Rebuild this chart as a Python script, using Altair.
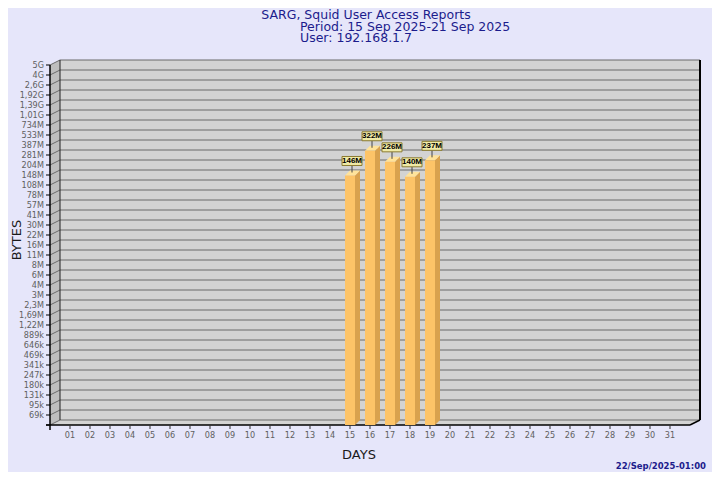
import altair as alt
import pandas as pd

# ---------------- data ----------------
DAYS = [15, 16, 17, 18, 19]
BYTES = [146e6, 322e6, 226e6, 140e6, 237e6]
BAR_LABELS = ["146M", "322M", "226M", "140M", "237M"]

Y_TICK_LABELS = ["69k", "95k", "131k", "180k", "247k", "341k", "469k", "646k", "889k",
                 "1,22M", "1,69M", "2,3M", "3M", "4M", "6M", "8M", "11M", "16M", "22M",
                 "30M", "41M", "57M", "78M", "108M", "148M", "204M", "281M", "387M",
                 "533M", "734M", "1,01G", "1,39G", "1,92G", "2,6G", "4G", "5G"]
X_TICK_LABELS = ["01", "02", "03", "04", "05", "06", "07", "08", "09", "10", "11", "12",
                 "13", "14", "15", "16", "17", "18", "19", "20", "21", "22", "23", "24",
                 "25", "26", "27", "28", "29", "30", "31"]
X_TICK_DAYS = list(range(1, 32))

TITLE_LINES = ["SARG, Squid User Access Reports", "Period: 15 Sep 2025-21 Sep 2025", "User: 192.168.1.7"]
Y_TITLE = "BYTES"
X_TITLE = "DAYS"
STAMP = "22/Sep/2025-01:00"

# ---------------- layout / style ----------------
Y_MIN, Y_MAX = 5e4, 5e9
X_MIN, X_MAX = 0, 32
W, H = 640, 360
PX_PER_DECADE = H / 5.0
K5 = 10 ** (5 / PX_PER_DECADE)      # 5px upward shift in data ratio
DX_WALL = 0.5                        # 10px in x data units
DX_BAR = 0.25                        # 5px in x data units

BG = "#e6e6fa"
WALL = "#d3d3d3"
SIDE = "#bebebe"
GRID = "#6a6a6a"
FRONT = "#fdc468"
BSIDE = "#d9a24e"
BTOP = "#ffe39a"
NAVY = "#1c1c8c"
AXFONT = "DejaVu Sans Condensed, Liberation Sans, sans-serif"

XS = alt.Scale(domain=[X_MIN, X_MAX], nice=False, zero=False)
YS = alt.Scale(type="log", domain=[Y_MIN, Y_MAX], nice=False)


def X(f):
    return alt.X(f, type="quantitative", scale=XS, axis=None)


def Y(f):
    return alt.Y(f, type="quantitative", scale=YS, axis=None)


# structure tables
frame = pd.DataFrame({"x0": [X_MIN], "x1": [X_MAX], "y0": [Y_MIN], "y1": [Y_MAX]})
side_df = pd.DataFrame({"x": [X_MIN, X_MIN + DX_WALL],
                        "lo": [Y_MIN, Y_MIN * K5], "hi": [Y_MAX, Y_MAX * K5]})
floor_df = pd.DataFrame({"y": [Y_MIN, Y_MIN * K5],
                         "xl": [X_MIN, X_MIN + DX_WALL], "xr": [X_MAX, X_MAX + DX_WALL]})

n = len(Y_TICK_LABELS)
tick_vals = [Y_MIN * (Y_MAX / Y_MIN) ** (i / n) for i in range(0, n + 1)]
ticks = pd.DataFrame({"v": tick_vals, "lab": [""] + Y_TICK_LABELS,
                      "x0": [X_MIN] * (n + 1), "x1": [X_MAX] * (n + 1)})
xt = pd.DataFrame({"d": X_TICK_DAYS, "lab": X_TICK_LABELS, "y0": [Y_MIN] * len(X_TICK_DAYS)})

bars = pd.DataFrame({"day": DAYS, "v": BYTES, "lab": BAR_LABELS})
bars["xl"] = bars["day"] - DX_BAR
bars["xr"] = bars["day"] + DX_BAR
bars["y0"] = Y_MIN

side_rows, top_rows = [], []
for d, v in zip(DAYS, BYTES):
    side_rows.append({"day": d, "x": d + DX_BAR, "lo": Y_MIN, "hi": v})
    side_rows.append({"day": d, "x": d + 2 * DX_BAR, "lo": Y_MIN * K5, "hi": v * K5})
    top_rows.append({"day": d, "y": v, "xl": d - DX_BAR, "xr": d + DX_BAR})
    top_rows.append({"day": d, "y": v * K5, "xl": d, "xr": d + 2 * DX_BAR})
bside = pd.DataFrame(side_rows)
btop = pd.DataFrame(top_rows)

# ---------------- layers ----------------
back = alt.Chart(frame).mark_rect(fill=WALL, xOffset=10, x2Offset=10, yOffset=-5, y2Offset=-5).encode(
    x=X("x0"), x2=alt.X2("x1"), y=Y("y0"), y2=alt.Y2("y1"))
side = alt.Chart(side_df).mark_area(fill=SIDE, orient="vertical").encode(
    x=X("x"), y=Y("lo"), y2=alt.Y2("hi"))
floor = alt.Chart(floor_df).mark_area(fill=WALL, orient="horizontal").encode(
    y=Y("y"), x=X("xl"), x2=alt.X2("xr"))

grid_back = alt.Chart(ticks).mark_rule(stroke=GRID, strokeWidth=1, xOffset=10, x2Offset=10, yOffset=-5).encode(
    x=X("x0"), x2=alt.X2("x1"), y=Y("v"))
grid_side = alt.Chart(ticks).mark_rule(stroke=GRID, strokeWidth=1, x2Offset=10, y2Offset=-5).encode(
    x=X("x0"), x2=alt.X2("x0"), y=Y("v"), y2=alt.Y2("v"))
tick_marks = alt.Chart(ticks).mark_rule(stroke="#000000", strokeWidth=1, xOffset=-4).encode(
    x=X("x0"), x2=alt.X2("x0"), y=Y("v"))
tick_labels = alt.Chart(ticks).mark_text(align="right", baseline="middle", dx=-6, font=AXFONT,
                                         fontSize=9, color="#606060").encode(
    x=X("x0"), y=Y("v"), text="lab:N")

# edges
axis_v = alt.Chart(frame).mark_rule(stroke="#000000", strokeWidth=1.5, yOffset=5).encode(
    x=X("x0"), y=Y("y0"), y2=alt.Y2("y1"))
back_left = alt.Chart(frame).mark_rule(stroke="#222222", strokeWidth=1, xOffset=10, yOffset=-5, y2Offset=-5).encode(
    x=X("x0"), y=Y("y0"), y2=alt.Y2("y1"))
back_right = alt.Chart(frame).mark_rule(stroke="#000000", strokeWidth=2, xOffset=10, yOffset=-5, y2Offset=-5).encode(
    x=X("x1"), y=Y("y0"), y2=alt.Y2("y1"))
base_front = alt.Chart(frame).mark_rule(stroke="#000000", strokeWidth=1.5, xOffset=-4).encode(
    x=X("x0"), x2=alt.X2("x1"), y=Y("y0"))
floor_right = alt.Chart(frame).mark_rule(stroke="#000000", strokeWidth=1.5, x2Offset=10, y2Offset=-5).encode(
    x=X("x1"), x2=alt.X2("x1"), y=Y("y0"), y2=alt.Y2("y0"))

x_ticks = alt.Chart(xt).mark_rule(stroke="#333333", strokeWidth=1, y2Offset=4).encode(
    x=X("d"), y=Y("y0"), y2=alt.Y2("y0"))
x_labels = alt.Chart(xt).mark_text(baseline="middle", align="center", dy=10, font=AXFONT, fontSize=9,
                                   color="#606060").encode(x=X("d"), y=Y("y0"), text="lab:N")

# bars
bar_side = alt.Chart(bside).mark_area(fill=BSIDE, orient="vertical").encode(
    x=X("x"), y=Y("lo"), y2=alt.Y2("hi"), detail="day:N")
bar_top = alt.Chart(btop).mark_area(fill=BTOP, orient="horizontal").encode(
    y=Y("y"), x=X("xl"), x2=alt.X2("xr"), detail="day:N")
bar_front = alt.Chart(bars).mark_rect(fill=FRONT).encode(
    x=X("xl"), x2=alt.X2("xr"), y=Y("y0"), y2=alt.Y2("v"))

stem = alt.Chart(bars).mark_rule(stroke="#444444", strokeWidth=1, xOffset=2, yOffset=-10, y2Offset=-3).encode(
    x=X("day"), y=Y("v"), y2=alt.Y2("v"))
box = alt.Chart(bars).mark_rect(fill="#f0eaa6", stroke="#8c7c32", strokeWidth=1,
                                xOffset=-8, x2Offset=12, yOffset=-19, y2Offset=-10).encode(
    x=X("day"), x2=alt.X2("day"), y=Y("v"), y2=alt.Y2("v"))
box_text = alt.Chart(bars).mark_text(font="Liberation Sans, Arial, sans-serif", fontWeight="bold", fontSize=8,
                                     color="#000000", align="center", baseline="middle", dx=2, dy=-14.5).encode(
    x=X("day"), y=Y("v"), text="lab:N")

# texts (pixel positions relative to plot origin)
title_df = pd.DataFrame({"t": TITLE_LINES})
t1 = alt.Chart(title_df.iloc[[0]]).mark_text(font="DejaVu Sans", fontSize=12.5, color=NAVY, align="center",
                                             baseline="middle").encode(
    x=alt.value(316), y=alt.value(-50), text="t:N")
t2 = alt.Chart(title_df.iloc[[1]]).mark_text(font="DejaVu Sans", fontSize=12.5, color=NAVY, align="left",
                                             baseline="middle").encode(
    x=alt.value(250), y=alt.value(-38.5), text="t:N")
t3 = alt.Chart(title_df.iloc[[2]]).mark_text(font="DejaVu Sans", fontSize=12.5, color=NAVY, align="left",
                                             baseline="middle").encode(
    x=alt.value(250), y=alt.value(-27.5), text="t:N")
ytitle = alt.Chart(pd.DataFrame({"t": [Y_TITLE]})).mark_text(font="DejaVu Sans", fontSize=13, color="#1a1a1a",
                                                             angle=270, align="center", baseline="middle").encode(
    x=alt.value(-33), y=alt.value(175), text="t:N")
xtitle = alt.Chart(pd.DataFrame({"t": [X_TITLE]})).mark_text(font="DejaVu Sans", fontSize=13, color="#1a1a1a",
                                                             align="center", baseline="middle").encode(
    x=alt.value(309), y=alt.value(390), text="t:N")
stamp = alt.Chart(pd.DataFrame({"t": [STAMP]})).mark_text(font="DejaVu Sans", fontSize=8.5, fontWeight="bold",
                                                          color=NAVY, align="right", baseline="middle").encode(
    x=alt.value(656), y=alt.value(401), text="t:N")

chart = alt.layer(
    back, side, floor, grid_back, grid_side, tick_marks, tick_labels,
    back_left, back_right, floor_right, base_front, axis_v,
    x_ticks, x_labels,
    bar_side, bar_top, bar_front, stem, box, box_text,
    t1, t2, t3, ytitle, xtitle, stamp,
).properties(
    width=W, height=H,
    autosize=alt.AutoSizeParams(type="none"),
    padding={"left": 42, "top": 57, "right": 22, "bottom": 47},
    background=BG,
).configure_view(stroke=None)

chart.save("out.html", embed_options={"renderer": "svg", "actions": False})
